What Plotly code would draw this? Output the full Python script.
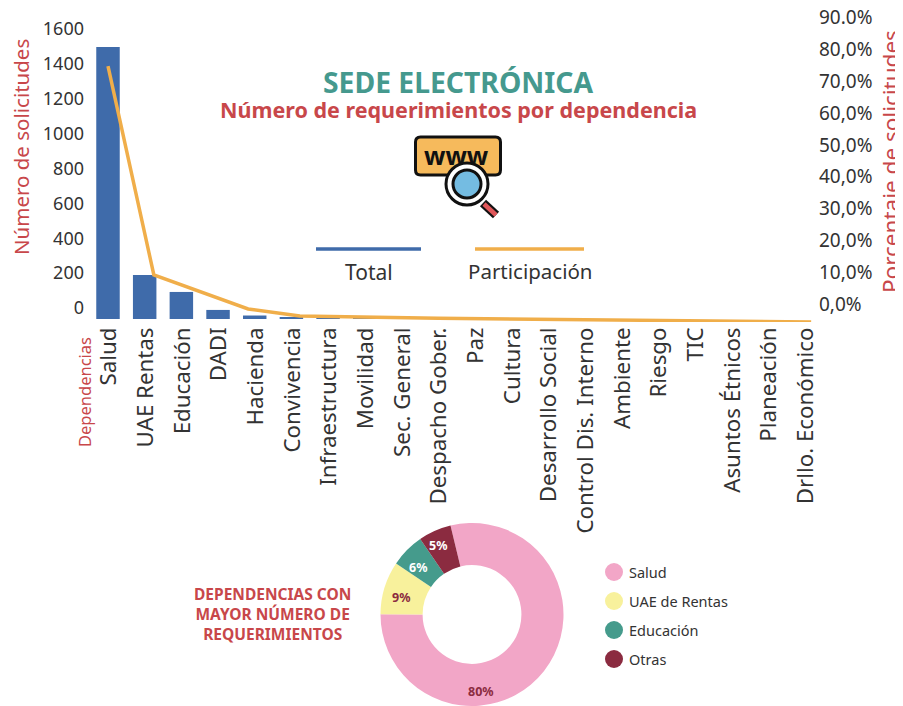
import plotly.graph_objects as go

W, H = 895, 698
FONT = "Noto Sans"
RED = "#C8474A"
TEAL = "#45998E"
DARK = "#333333"
BLUE = "#3F6BAA"
ORANGE = "#F0AE4A"

categorias = ["Salud", "UAE Rentas", "Educación", "DADI", "Hacienda", "Convivencia", "Infraestructura",
              "Movilidad", "Sec. General", "Despacho Gober.", "Paz", "Cultura", "Desarrollo Social",
              "Control Dis. Interno", "Ambiente", "Riesgo", "TIC", "Asuntos Étnicos", "Planeación",
              "Drllo. Económico"]
total = [1559, 252, 155, 52, 20, 8, 7, 6, 6, 5, 0, 0, 0, 0, 0, 0, 0, 0, 0, 0]
participacion_pos = [0, 1.25, 3.82, 5.23, 9, 14, 19.17]
participacion = [80.5, 14.8, 4.1, 1.9, 1.2, 0.6, 0.0]

ticks_izq = [0, 200, 400, 600, 800, 1000, 1200, 1400, 1600]
ticks_der = [0, 10, 20, 30, 40, 50, 60, 70, 80, 90]
ticks_der_txt = ["0,0%", "10,0%", "20,0%", "30,0%", "40,0%", "50,0%", "60,0%", "70,0%", "80,0%", "90.0%"]

dona_labels = ["Salud", "UAE de Rentas", "Educación", "Otras"]
dona_vals = [78.8, 9.4, 6.0, 5.8]
dona_etiquetas = ["80%", "9%", "6%", "5%"]
dona_cols = ["#F2A6C7", "#F8F19C", "#459B8C", "#8B2B40"]
dona_txt_cols = ["#8B2B40", "#8B2B40", "#FFFFFF", "#FFFFFF"]
dona_txt_pos = [(481, 691), (401, 597), (418, 567), (438, 545)]

# la página desplaza la figura 8 px
px = lambda x: (x - 8) / W
py = lambda y: 1 - (y - 8) / H

fig = go.Figure()
fig.add_trace(go.Bar(x=list(range(20)), y=total, name="Total", marker=dict(color=BLUE, line_width=0),
                     width=0.64, yaxis="y", xaxis="x", showlegend=False))
fig.add_trace(go.Scatter(x=participacion_pos, y=participacion, name="Participación", mode="lines",
                         line=dict(color=ORANGE, width=3.5), yaxis="y2", xaxis="x", showlegend=False))
fig.add_trace(go.Pie(labels=dona_labels, values=dona_vals, hole=0.54, sort=False, direction="clockwise",
                     rotation=-13.6, textinfo="none", marker=dict(colors=dona_cols, line_width=0),
                     domain=dict(x=[px(472 - 91.5), px(472 + 91.5)], y=[0, py(523)]), showlegend=False))

XL, XR, YB, YT = 85, 818, 322, 8
PXU = 36.68
fig.update_layout(
    width=W, height=H, margin=dict(l=0, r=0, t=0, b=0, autoexpand=False),
    paper_bgcolor="white", plot_bgcolor="white", font=dict(family=FONT, color=DARK), bargap=0.3,
    xaxis=dict(domain=[px(XL), px(XR)], range=[(XL - 108) / PXU, (XR - 108) / PXU],
               tickmode="array", tickvals=list(range(20)), ticktext=categorias, tickangle=-90,
               tickfont=dict(size=22.3, color=DARK), showgrid=False, zeroline=False, showline=False,
               ticks="", anchor="y", ticklabelshift=1),
    yaxis=dict(domain=[py(YB), py(YT)], range=[-3 / 0.1745, (319 - YT) / 0.1745], tickmode="array", tickvals=ticks_izq,
               ticktext=[str(v) for v in ticks_izq], ticklabelshift=-11, tickfont=dict(size=18, color=DARK),
               ticklabeloverflow="allow", showgrid=False, zeroline=False, showline=False, ticks="", anchor="x"),
    yaxis2=dict(domain=[py(YB), py(YT)], range=[0, (322 - YT) / 3.18], overlaying="y", side="right", anchor="x",
                tickmode="array", tickvals=ticks_der, ticktext=ticks_der_txt, ticklabelshift=-18,
                ticklabeloverflow="allow", tickfont=dict(size=19, color=DARK), showgrid=False, zeroline=False,
                showline=False, ticks=""),
)

ann = []
def txt(x, y, s, size, color=DARK, bold=False, angle=0, anchor="center"):
    ann.append(dict(x=px(x), y=py(y), xref="paper", yref="paper", text=f"<b>{s}</b>" if bold else s,
                    showarrow=False, font=dict(size=size, color=color, family=FONT), textangle=angle,
                    xanchor=anchor, yanchor="middle"))

txt(458, 82, "SEDE ELECTRÓNICA", 28.3, TEAL, True)
txt(458, 109, "Número de requerimientos por dependencia", 21.5, RED, True)
txt(21, 147, "Número de solicitudes", 20.5, RED, angle=-90)
txt(890, 162, "Porcentaje de solicitudes", 22.5, RED, angle=-90)
txt(84, 392, "Dependencias", 16.5, RED, angle=-90)
txt(369, 272, "Total", 21)
txt(530, 271, "Participación", 20.5)
txt(272, 614, "DEPENDENCIAS CON<br>MAYOR NÚMERO DE<br>REQUERIMIENTOS", 15.5, RED, True)
for (x, y), v, c in zip(dona_txt_pos, dona_etiquetas, dona_txt_cols):
    txt(x, y, v, 12.5, c, True)
for i, (lab, col) in enumerate(zip(dona_labels, dona_cols)):
    txt(627, 572 + 29 * i, lab, 14.5)
    ann[-1]["xanchor"] = "left"
txt(456, 155, "www", 25, "#111111", True)
fig.update_layout(annotations=ann)

shapes = []
def pline(x0, y0, x1, y1, color, width):
    shapes.append(dict(type="line", xref="paper", yref="paper", x0=px(x0), y0=py(y0), x1=px(x1), y1=py(y1),
                       line=dict(color=color, width=width)))
def circ(cx, cy, r, fill, lc="rgba(0,0,0,0)", lw=0):
    shapes.append(dict(type="circle", xref="paper", yref="paper", x0=px(cx - r), x1=px(cx + r),
                       y0=py(cy + r), y1=py(cy - r), fillcolor=fill, line=dict(color=lc, width=lw)))

pline(316, 249, 421, 249, BLUE, 3.5)
pline(475, 249, 584, 249, ORANGE, 3.5)
for i, col in enumerate(dona_cols):
    circ(614, 572 + 29 * i, 9, col)

# icono
x0, x1, y0, y1, r = 415.5, 500.5, 137, 175, 5
def P(x, y):
    return f"{px(x):.5f},{py(y):.5f}"
path = (f"M{P(x0 + r, y0)} L{P(x1 - r, y0)} Q{P(x1, y0)} {P(x1, y0 + r)} L{P(x1, y1 - r)} Q{P(x1, y1)} {P(x1 - r, y1)} "
        f"L{P(x0 + r, y1)} Q{P(x0, y1)} {P(x0, y1 - r)} L{P(x0, y0 + r)} Q{P(x0, y0)} {P(x0 + r, y0)} Z")
shapes.append(dict(type="path", xref="paper", yref="paper", path=path, fillcolor="#F6BA5C",
                   line=dict(color="#111111", width=3)))
pline(483, 203, 496, 215, "#111111", 9)
pline(484, 204, 496, 215, "#E0575A", 4.5)
circ(467, 184, 21, "white", "#111111", 3)
circ(467, 184, 14, "#74BCE2", "#111111", 3)
fig.update_layout(shapes=shapes)

fig.write_html("out.html")
